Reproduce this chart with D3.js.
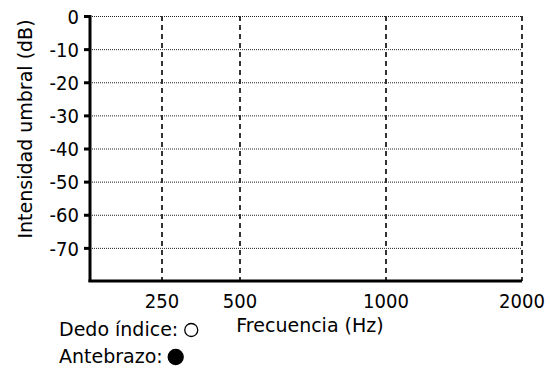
<!DOCTYPE html>
<html>
<head>
<meta charset="utf-8">
<script src="https://cdn.jsdelivr.net/npm/d3@7"></script>
<style>
  body { margin: 0; background: #fff; }
  svg text { font-family: "DejaVu Sans", sans-serif; fill: #000; }
  svg .num { font-family: "DejaVu Sans Condensed", "DejaVu Sans", sans-serif; font-size: 20px; }
</style>
</head>
<body>
<svg width="551" height="369"></svg>
<script>
// data
var frequencies = [250, 500, 1000, 2000];
var dbTicks = [0, -10, -20, -30, -40, -50, -60, -70];
var legendNames = ["Dedo índice:", "Antebrazo:"];
var legendFilled = [false, true];
// no measured points are plotted in the reference
var dedoValues = [];
var antebrazoValues = [];

var svg = d3.select("svg");

// x is not log nor linear in the original, so a piecewise scale
var x = d3.scaleLinear()
  .domain([0, 250, 500, 1000, 2000])
  .range([90, 162, 240, 386, 522]);

var y = d3.scaleLinear()
  .domain([0, -80])
  .range([16, 281]);

// horizontal dotted grid
svg.append("g")
  .selectAll("line")
  .data(dbTicks)
  .enter().append("line")
    .attr("x1", x(0))
    .attr("x2", x(2000))
    .attr("y1", function(d) { return y(d) + 0.5; })
    .attr("y2", function(d) { return y(d) + 0.5; })
    .attr("stroke", "#222")
    .attr("stroke-width", 1)
    .attr("stroke-dasharray", "1,1");

// vertical dashed lines
svg.append("g")
  .selectAll("line")
  .data(frequencies)
  .enter().append("line")
    .attr("x1", function(d) { return x(d); })
    .attr("x2", function(d) { return x(d); })
    .attr("y1", y(0))
    .attr("y2", y(-80))
    .attr("stroke", "#333")
    .attr("stroke-width", 2)
    .attr("stroke-dasharray", "5,4");

// y axis (plain hyphen like the original, not the unicode minus)
var yAxis = svg.append("g")
  .attr("transform", "translate(" + x(0) + ",0)")
  .call(d3.axisLeft(y)
    .tickValues(dbTicks)
    .tickFormat(function(d) { return String(d); })
    .tickSize(6).tickPadding(5).tickSizeOuter(0));
yAxis.select(".domain").attr("stroke", "#000").attr("stroke-width", 3)
  .attr("d", "M0," + (y(0) - 1) + "V" + (y(-80) + 1));
yAxis.selectAll(".tick line").attr("stroke", "#000").attr("stroke-width", 3);
yAxis.selectAll(".tick text")
  .attr("class", "num")
  .attr("font-size", null)
  .attr("font-family", null)
  .attr("dy", "0.36em");

// x axis line and labels
svg.append("line")
  .attr("x1", x(0) - 1.5)
  .attr("x2", x(2000))
  .attr("y1", y(-80))
  .attr("y2", y(-80))
  .attr("stroke", "#000")
  .attr("stroke-width", 3);

svg.append("g")
  .selectAll("text")
  .data(frequencies)
  .enter().append("text")
    .attr("class", "num")
    .attr("x", function(d) { return x(d); })
    .attr("y", 308)
    .attr("text-anchor", "middle")
    .text(function(d) { return d; });

// axis titles
svg.append("text")
  .attr("x", 310)
  .attr("y", 332)
  .attr("text-anchor", "middle")
  .style("font-size", "19px")
  .text("Frecuencia (Hz)");

svg.append("text")
  .attr("transform", "translate(32," + 129 + ") rotate(-90)")
  .attr("text-anchor", "middle")
  .style("font-size", "19px")
  .text("Intensidad umbral (dB)");

// legend
var leg = svg.append("g")
  .selectAll("g")
  .data(legendNames)
  .enter().append("g")
    .attr("transform", function(d, i) { return "translate(59," + (336 + i * 27) + ")"; });

leg.append("text")
  .style("font-size", "19px")
  .text(function(d) { return d; });

leg.append("circle")
  .attr("cx", function(d) { return this.parentNode.querySelector("text").getComputedTextLength() + 13; })
  .attr("cy", -6)
  .attr("r", function(d, i) { return legendFilled[i] ? 7.5 : 6.5; })
  .attr("fill", function(d, i) { return legendFilled[i] ? "#000" : "#fff"; })
  .attr("stroke", "#000")
  .attr("stroke-width", 1.3);
</script>
</body>
</html>
